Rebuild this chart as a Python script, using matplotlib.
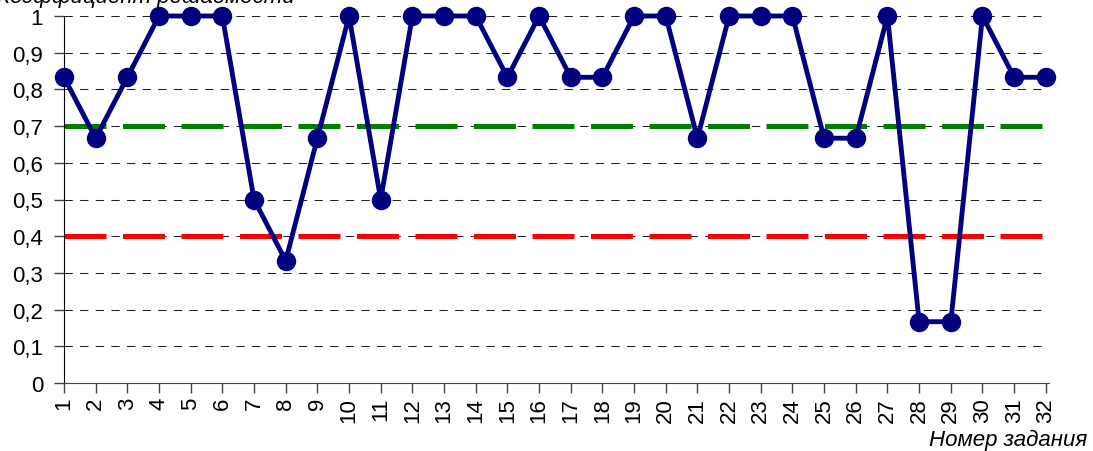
import matplotlib.pyplot as plt
import numpy as np

plt.rcParams['font.family'] = ['Liberation Sans', 'DejaVu Sans']

# номера заданий и коэффициенты решаемости
zadaniya = np.arange(1, 33)
koef = [0.833, 0.667, 0.833, 1, 1, 1, 0.5, 0.333, 0.667, 1, 0.5, 1, 1, 1, 0.833, 1,
        0.833, 0.833, 1, 1, 0.667, 1, 1, 1, 0.667, 0.667, 1, 0.167, 0.167, 1, 0.833, 0.833]
porog_verh = 0.7
porog_niz = 0.4

fig = plt.figure(figsize=(10.93, 4.52), dpi=100)
ax = fig.add_axes([64/1093, 1 - 384/452, (1049 - 64)/1093, (384 - 17)/452])

# пороговые линии
gran = [zadaniya[0], zadaniya[-1]]
ax.plot(gran, [porog_verh] * 2, color='#008000', lw=3.6, dashes=(8.4, 3.3),
        solid_capstyle='butt', dash_capstyle='butt', zorder=2)
ax.plot(gran, [porog_niz] * 2, color='#ff0000', lw=3.6, dashes=(8.4, 3.3),
        solid_capstyle='butt', dash_capstyle='butt', zorder=2)
ax.plot(zadaniya, koef, color='#000080', lw=3.5, marker='o', markersize=13,
        zorder=3, clip_on=False)

ax.set_xlim(1, 32.1)
ax.set_ylim(0, 1)
ax.set_xticks(zadaniya)
ax.set_xticklabels([str(z) for z in zadaniya], rotation=90, fontsize=16)
ax.set_yticks(np.arange(0, 1.01, 0.1))
ax.set_yticklabels(['0'] + [f'0,{i}' for i in range(1, 10)] + ['1'], fontsize=16)
ax.tick_params(axis='both', direction='out', length=7, width=1, color='#444444')
ax.tick_params(axis='y', pad=8)
ax.tick_params(axis='x', pad=3)
ax.yaxis.grid(True, color='#222222', ls=(0, (8, 7)), lw=0.75)
ax.set_axisbelow(True)
for s in ['top', 'right']:
    ax.spines[s].set_visible(False)
ax.spines['left'].set_color('black')
ax.spines['bottom'].set_color('#444444')

fig.text(295/1093, 1 - 3/452, 'Коэффициент решаемости', ha='right', va='baseline',
         fontsize=16, style='italic')
fig.text(1087/1093, 1 - 446/452, 'Номер задания', ha='right', va='baseline',
         fontsize=16, style='italic')

fig.savefig('out.png', dpi=100)
